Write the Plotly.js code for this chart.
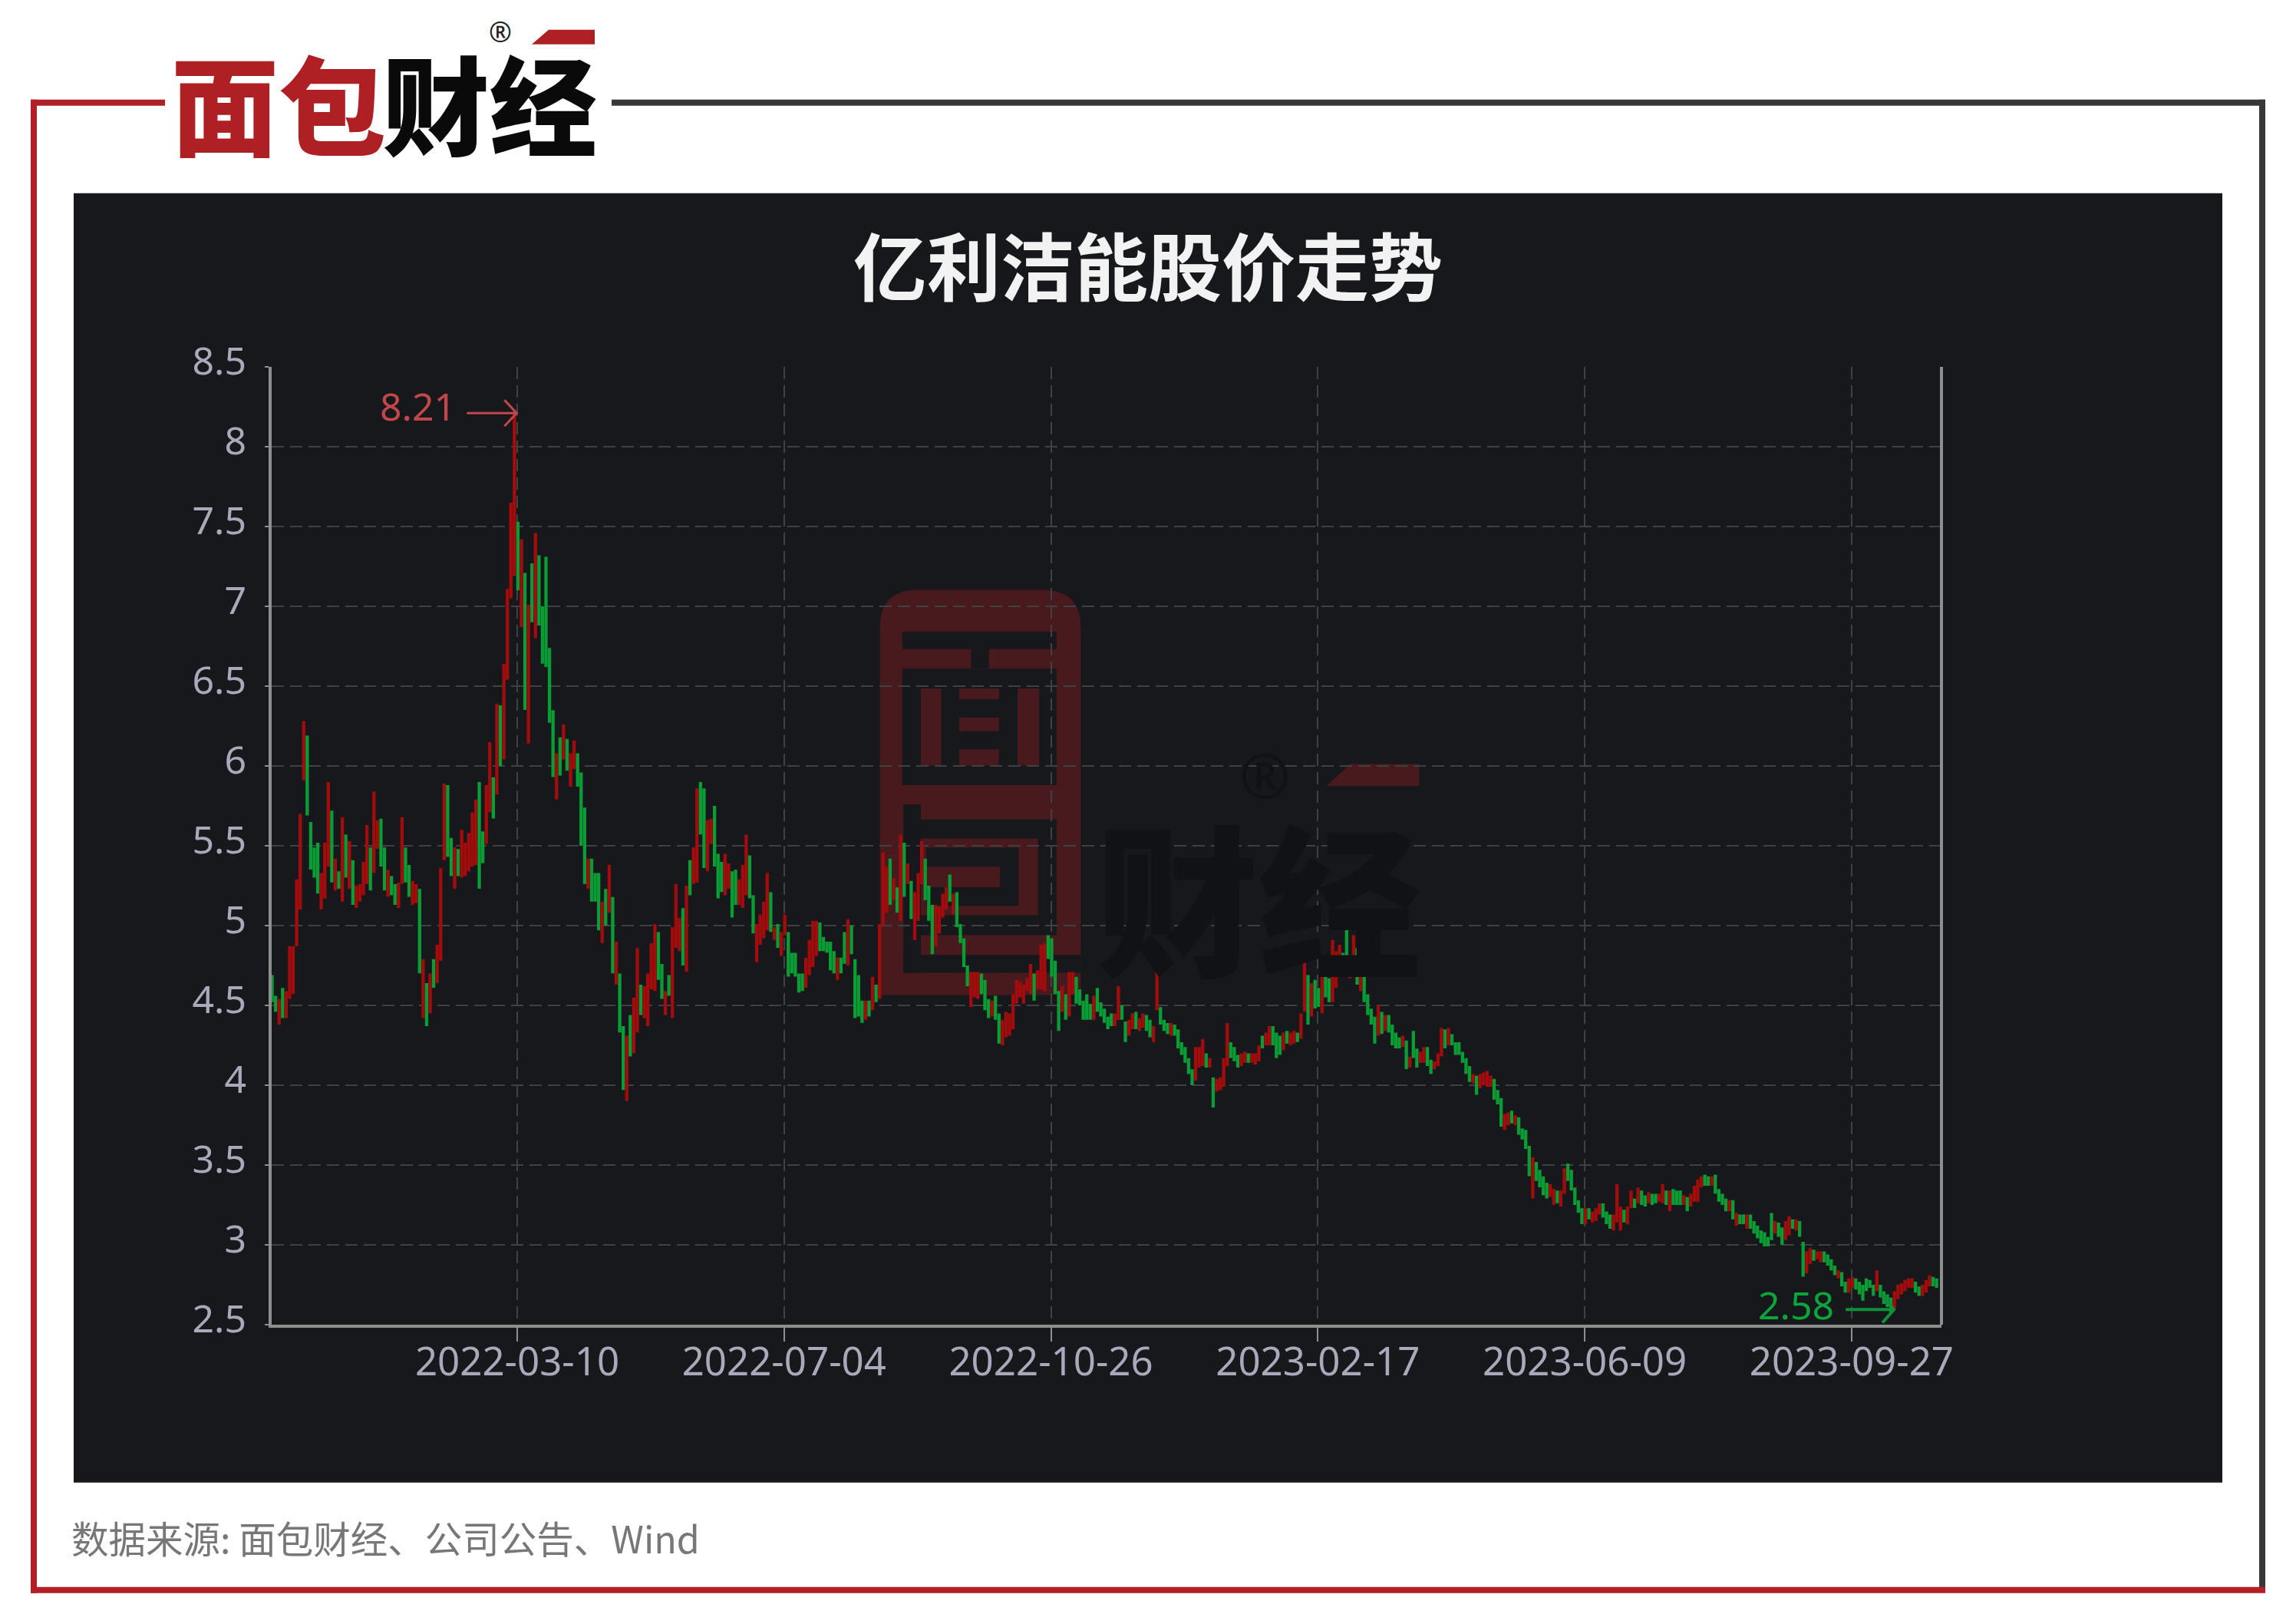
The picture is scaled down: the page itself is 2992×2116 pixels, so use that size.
<!DOCTYPE html>
<html><head><meta charset="utf-8">
<script src="https://cdn.plot.ly/plotly-3.0.1.min.js"></script>
<style>html,body{margin:0;padding:0;background:#fff}#c{width:2992px;height:2116px}</style>
</head><body><div id="c"></div>
<script>
const opens = [
4.55,4.68,4.55,4.39,4.60,4.43,4.55,4.58,4.88,5.11,
5.92,6.18,5.64,5.48,5.51,5.11,5.18,5.38,5.71,5.23,
5.33,5.16,5.56,5.24,5.40,5.12,5.16,5.20,5.27,5.48,
5.34,5.49,5.66,5.48,5.19,5.30,5.25,5.12,5.27,5.48,
5.37,5.14,5.15,5.22,4.43,4.63,4.46,4.78,4.65,4.79,
5.42,5.87,5.54,5.24,5.47,5.31,5.32,5.35,5.38,5.39,
5.89,5.58,5.52,5.72,5.92,5.83,6.37,6.05,6.55,7.06,
7.20,7.52,6.88,7.20,6.15,7.26,6.81,7.31,6.99,7.30,
6.73,6.34,5.80,6.17,6.05,6.16,5.88,5.99,6.07,5.95,
5.73,5.24,5.41,5.32,5.32,4.90,5.22,5.09,5.17,4.64,
4.69,4.36,3.91,4.43,4.21,4.34,4.62,4.43,4.38,4.61,
4.60,4.95,4.75,4.45,4.68,4.43,4.87,4.85,5.10,4.72,
5.40,5.27,5.28,5.89,5.85,5.35,5.52,5.74,5.44,5.39,
5.20,5.24,5.33,5.34,5.14,5.12,5.20,5.43,5.18,4.78,
4.89,4.93,4.98,5.20,4.92,5.00,4.82,4.95,4.95,4.82,
4.82,4.69,4.69,4.62,4.70,4.75,4.82,5.01,4.92,4.89,
4.89,4.83,4.67,4.79,4.95,4.76,4.99,4.78,4.68,4.52,
4.42,4.52,4.48,4.62,4.55,5.01,5.09,5.41,5.17,5.23,
5.04,5.51,5.27,5.27,4.92,5.04,5.27,5.41,5.24,5.12,
4.88,4.96,5.06,5.11,5.31,5.08,5.20,5.00,4.91,4.74,
4.50,4.56,4.55,4.69,4.65,4.53,4.44,4.55,4.44,4.26,
4.31,4.32,4.36,4.52,4.56,4.52,4.60,4.58,4.69,4.61,
4.61,4.60,4.93,4.91,4.77,4.58,4.47,4.56,4.44,4.58,
4.67,4.59,4.52,4.56,4.50,4.42,4.60,4.51,4.47,4.42,
4.44,4.38,4.42,4.49,4.39,4.32,4.36,4.45,4.35,4.37,
4.43,4.40,4.28,4.48,4.48,4.40,4.38,4.32,4.37,4.34,
4.26,4.23,4.16,4.09,4.04,4.12,4.13,4.19,4.12,4.04,
3.97,3.98,4.00,4.13,4.26,4.23,4.18,4.13,4.15,4.19,
4.15,4.14,4.16,4.30,4.26,4.26,4.36,4.32,4.30,4.23,
4.33,4.26,4.27,4.32,4.30,4.47,4.68,4.44,4.65,4.60,
4.46,4.69,4.66,4.53,4.62,4.72,4.82,4.99,4.68,4.81,
4.85,4.60,4.67,4.56,4.47,4.42,4.32,4.45,4.35,4.43,
4.37,4.32,4.29,4.25,4.27,4.12,4.33,4.22,4.15,4.15,
4.23,4.15,4.11,4.13,4.19,4.34,4.26,4.31,4.26,4.26,
4.20,4.16,4.11,4.02,4.05,3.99,4.01,4.00,4.00,4.03,
3.96,3.91,3.73,3.76,3.83,3.76,3.79,3.72,3.71,3.61,
3.30,3.51,3.46,3.42,3.38,3.31,3.26,3.33,3.25,3.33,
3.50,3.46,3.35,3.27,3.22,3.14,3.22,3.15,3.16,3.20,
3.25,3.20,3.18,3.10,3.15,3.10,3.21,3.14,3.24,3.28,
3.27,3.33,3.30,3.27,3.31,3.31,3.28,3.27,3.33,3.22,
3.34,3.33,3.33,3.26,3.29,3.25,3.28,3.28,3.37,3.43,
3.42,3.38,3.43,3.34,3.31,3.28,3.22,3.27,3.13,3.18,
3.18,3.11,3.18,3.14,3.11,3.08,3.07,3.04,3.19,3.08,
3.13,3.10,3.04,3.07,3.15,3.10,3.14,3.01,2.83,2.89,
2.96,2.92,2.90,2.95,2.93,2.90,2.86,2.80,2.82,2.76,
2.71,2.74,2.78,2.76,2.74,2.78,2.77,2.74,2.72,2.74,
2.70,2.68,2.66,2.61,2.67,2.70,2.72,2.74,2.74,2.76,
2.73,2.69,2.71,2.75,2.79,2.78];
const closes = [
4.76,4.53,4.47,4.53,4.43,4.58,4.86,4.86,5.28,5.69,
6.27,5.70,5.36,5.31,5.21,5.32,5.51,5.89,5.28,5.41,
5.24,5.67,5.31,5.52,5.14,5.24,5.25,5.39,5.62,5.23,
5.83,5.65,5.38,5.23,5.34,5.20,5.14,5.26,5.67,5.28,
5.19,5.27,5.25,4.71,4.78,4.38,4.69,4.62,4.87,5.35,
5.88,5.44,5.32,5.48,5.32,5.59,5.51,5.57,5.70,5.78,
5.24,5.40,5.87,6.14,5.68,6.38,6.01,6.63,7.10,7.64,
8.21,7.11,7.41,6.36,7.00,6.91,7.45,6.89,6.65,6.63,
6.28,5.94,6.07,5.95,6.25,5.98,6.07,6.15,5.88,5.51,
5.27,5.41,5.16,5.16,4.98,5.14,5.01,5.37,4.71,4.89,
4.34,3.98,4.30,4.19,4.54,4.85,4.45,4.61,4.69,4.88,
5.00,4.67,4.55,4.58,4.57,4.98,5.25,5.04,4.76,5.24,
5.20,5.48,5.85,5.58,5.37,5.65,5.66,5.38,5.18,5.22,
5.44,5.38,5.06,5.14,5.28,5.37,5.56,5.18,4.96,5.00,
5.06,5.14,5.32,4.97,4.98,4.87,4.95,5.06,4.69,4.71,
4.69,4.59,4.60,4.79,4.90,5.02,5.02,4.85,4.85,4.84,
4.73,4.71,4.79,4.71,4.77,5.03,4.83,4.43,4.44,4.40,
4.52,4.44,4.67,4.53,5.00,5.45,5.36,5.14,5.29,5.09,
5.56,5.19,5.38,5.05,5.20,5.32,5.52,5.17,5.04,4.83,
5.12,5.11,5.19,5.23,5.16,5.19,5.00,4.90,4.75,4.63,
4.70,4.70,4.70,4.58,4.48,4.43,4.52,4.42,4.27,4.40,
4.45,4.44,4.56,4.65,4.64,4.62,4.66,4.75,4.54,4.71,
4.87,4.88,4.80,4.69,4.58,4.35,4.61,4.42,4.70,4.70,
4.52,4.51,4.42,4.42,4.42,4.55,4.47,4.44,4.40,4.36,
4.38,4.44,4.61,4.42,4.28,4.40,4.44,4.36,4.41,4.44,
4.35,4.31,4.36,4.80,4.39,4.35,4.33,4.38,4.32,4.24,
4.20,4.15,4.08,4.01,4.23,4.23,4.28,4.12,4.16,3.87,
4.03,4.04,4.16,4.38,4.18,4.16,4.12,4.19,4.20,4.15,
4.19,4.19,4.24,4.24,4.32,4.36,4.26,4.18,4.20,4.32,
4.27,4.32,4.33,4.28,4.44,4.78,4.39,4.63,4.49,4.50,
4.75,4.56,4.53,4.90,4.83,4.87,4.72,4.77,4.80,4.93,
4.64,4.68,4.53,4.45,4.39,4.27,4.49,4.33,4.43,4.34,
4.26,4.24,4.24,4.30,4.11,4.17,4.18,4.12,4.20,4.23,
4.13,4.08,4.14,4.19,4.35,4.24,4.35,4.26,4.20,4.20,
4.15,4.08,4.03,4.06,3.95,4.06,4.07,4.08,4.05,3.92,
3.89,3.75,3.81,3.82,3.77,3.80,3.70,3.67,3.61,3.44,
3.54,3.41,3.37,3.32,3.30,3.37,3.34,3.27,3.33,3.47,
3.41,3.35,3.26,3.21,3.14,3.22,3.17,3.20,3.22,3.25,
3.18,3.14,3.11,3.18,3.37,3.23,3.15,3.23,3.33,3.24,
3.35,3.26,3.25,3.32,3.26,3.27,3.31,3.37,3.26,3.33,
3.26,3.26,3.26,3.30,3.22,3.31,3.36,3.40,3.42,3.38,
3.38,3.42,3.33,3.28,3.26,3.22,3.27,3.17,3.19,3.14,
3.14,3.18,3.11,3.08,3.05,3.02,3.00,3.00,3.04,3.14,
3.06,3.01,3.14,3.17,3.11,3.15,3.06,2.81,2.95,2.97,
2.91,2.95,2.95,2.90,2.88,2.85,2.82,2.83,2.75,2.71,
2.78,2.79,2.73,2.70,2.66,2.72,2.74,2.69,2.83,2.68,
2.64,2.62,2.58,2.70,2.74,2.75,2.77,2.78,2.78,2.71,
2.69,2.74,2.77,2.80,2.75,2.74];
const tickIndex = [70,146,222,298,374,450];
const tickLabels = ['2022-03-10','2022-07-04','2022-10-26','2023-02-17','2023-06-09','2023-09-27'];
const yTickVals = [2.5,3,3.5,4,4.5,5,5.5,6,6.5,7,7.5,8,8.5];
const yTickLabels = ['2.5','3','3.5','4','4.5','5','5.5','6','6.5','7','7.5','8','8.5'];
const chartTitle = '亿利洁能股价走势';
const sourceNote = '数据来源: 面包财经、公司公告、Wind';

// ---- page geometry ----
const W = 2992, H = 2116;
const L = 354, R = 2530, T = 478.3, B = 1726.3;
const px = x => (x - L) / (R - L);
const py = y => (B - y) / (B - T);
const bandPx = 4.576, firstPx = 350;
const xAt = p => (p - firstPx) / bandPx;

const idx = opens.map((_, i) => i);
const highs = opens.map((o, i) => Math.max(o, closes[i]));
const lows = opens.map((o, i) => Math.min(o, closes[i]));
const maxI = highs.indexOf(Math.max(...highs));
const minI = lows.indexOf(Math.min(...lows));

const PANEL = '#16181c', WMR = '#491a1d', WMK = '#101216';
const RED = '#b21f24', GRAY = '#383838', AX = '#8f8f8f', GRID = '#404144';

function rect(x0, x1, y0, y1, color) {
  return {type:'rect', xref:'paper', yref:'paper', layer:'below', x0:px(x0), x1:px(x1), y0:py(y0), y1:py(y1),
    fillcolor:color, line:{width:0}};
}
function poly(pts, color) {
  const d = pts.map((p, i) => (i ? 'L' : 'M') + px(p[0]) + ',' + py(p[1])).join('') + 'Z';
  return {type:'path', xref:'paper', yref:'paper', layer:'below', path:d, fillcolor:color, line:{width:0}};
}
// watermark coordinates are measured in a crop, converted here
const wx = z => 1120 + z / 2.063, wy = z => 750 + z / 2.24;
const wr = (a, b, c, d, col) => rect(wx(a), wx(b), wy(c), wy(d), col);

function roundedMark() {
  const x0 = wx(55), x1 = wx(595), y0 = wy(42), y1 = wy(1225), r = 50;
  const k = [x0 + r, y0, x1 - r, y0, x1, y0 + r, x1, y1, x0, y1, x0, y0 + r];
  const p = (x, y) => px(x) + ',' + py(y);
  const d = 'M' + p(k[0], k[1]) + 'L' + p(k[2], k[3]) + 'Q' + p(x1, y0) + ' ' + p(k[4], k[5]) +
    'L' + p(k[6], k[7]) + 'L' + p(k[8], k[9]) + 'L' + p(k[10], k[11]) + 'Q' + p(x0, y0) + ' ' + p(k[0], k[1]) + 'Z';
  return {type:'path', xref:'paper', yref:'paper', layer:'below', path:d, fillcolor:WMR, line:{width:0}};
}

const shapes = [
  // white frame
  rect(40, 215, 130, 138, RED),
  rect(40, 48, 130, 2076, RED),
  rect(797, 2952, 130, 138, GRAY),
  rect(2944, 2952, 130, 2072, GRAY),
  rect(40, 2952, 2068, 2076, RED),
  // dark panel
  rect(96, 2896, 252, 1932, PANEL),
  // logo accent
  poly([[715,39],[775,39],[775,58],[693,58]], '#ae2024'),
  // watermark
  roundedMark(),
  wr(115,530,165,215,PANEL),
  wr(300,348,215,272,PANEL),
  wr(115,530,272,612,PANEL),
  wr(165,220,330,555,WMR), wr(425,483,330,555,WMR),
  wr(268,375,330,362,WMR), wr(268,375,415,455,WMR), wr(268,375,508,555,WMR),
  wr(118,165,668,1160,PANEL),
  wr(165,530,712,768,PANEL),
  wr(480,530,768,1050,PANEL),
  wr(180,428,795,965,PANEL),
  wr(180,378,850,910,WMR),
  wr(165,480,992,1050,PANEL),
  wr(118,595,1108,1160,PANEL),
  poly([[wx(1320),wy(550)],[wx(1505),wy(550)],[wx(1505),wy(615)],[wx(1255),wy(615)]], WMR),
  // right-hand axis line
  {type:'line', xref:'paper', yref:'paper', x0:1, x1:1, y0:0, y1:1, line:{color:AX, width:4}},
  // peak and trough arrows, anchored on the data
  {type:'path', xref:'x', yref:'y', xsizemode:'pixel', ysizemode:'pixel', xanchor:maxI, yanchor:highs[maxI],
   path:'M-62,0L3,0M-13,-17L3,0L-13,17', line:{color:'#c2474a', width:3}},
  {type:'path', xref:'x', yref:'y', xsizemode:'pixel', ysizemode:'pixel', xanchor:minI, yanchor:lows[minI],
   path:'M-59,3L4,3M-11,-14L4,3L-11,20', line:{color:'#0e8f38', width:4}}
];

const num = {family:'"Noto Sans", sans-serif', size:51, color:'#a9a9bb'};
const yNum = {family:'"Noto Sans", sans-serif', size:50, color:'#a9a9bb'};
const cjk = '"Noto Sans CJK SC", sans-serif';

const annotations = [
  {x:maxI, y:highs[maxI], xref:'x', yref:'y', text:String(highs[maxI]), showarrow:false, xshift:-126, yshift:9,
   font:{family:num.family, size:50, color:'#c2474a'}},
  {x:minI, y:lows[minI], xref:'x', yref:'y', text:String(lows[minI]), showarrow:false, xshift:-124, yshift:9,
   font:{family:num.family, size:50, color:'#0ca53c'}},
  // source line
  {xref:'paper', yref:'paper', x:px(91), y:py(2003), xanchor:'left', yanchor:'middle', showarrow:false, text:sourceNote,
   font:{family:cjk, size:48.5, color:'#777777'}},
  // header logo wordmark
  {xref:'paper', yref:'paper', x:px(505), y:py(131), xanchor:'right', yanchor:'middle', showarrow:false, text:'面包',
   font:{family:cjk, size:140, color:'#ae2024', weight:900}},
  {xref:'paper', yref:'paper', x:px(496), y:py(131), xanchor:'left', yanchor:'middle', showarrow:false, text:'财经',
   font:{family:cjk, size:140, color:'#0a0a0a', weight:900}},
  {xref:'paper', yref:'paper', x:px(652), y:py(42), xanchor:'center', yanchor:'middle', showarrow:false, text:'®',
   font:{family:num.family, size:36, color:'#222222'}},
  // panel watermark wordmark
  {xref:'paper', yref:'paper', x:px(1640), y:py(1165), xanchor:'center', yanchor:'middle', showarrow:false, text:'财经',
   font:{family:cjk, size:212, color:WMK, weight:900}},
  {xref:'paper', yref:'paper', x:px(1648), y:py(1009), xanchor:'center', yanchor:'middle', showarrow:false, text:'®',
   font:{family:num.family, size:80, color:WMK}}
];

const trace = {
  type:'candlestick', x:idx, open:opens, high:highs, low:lows, close:closes,
  increasing:{line:{color:'#a30c0c', width:4}, fillcolor:'#a30c0c'},
  decreasing:{line:{color:'#0a9c35', width:4}, fillcolor:'#0a9c35'},
  whiskerwidth:0, hoverinfo:'skip', showlegend:false
};

const layout = {
  width:W, height:H, autosize:false,
  margin:{l:L, r:W-R, t:T, b:H-B, pad:0},
  paper_bgcolor:'#ffffff', plot_bgcolor:'rgba(0,0,0,0)',
  showlegend:false, boxgap:0.9,
  title:{text:chartTitle, x:1496/W, xanchor:'center', y:1-350/H, yanchor:'middle',
         font:{family:cjk, size:96, color:'#f2f2f2', weight:700}},
  xaxis:{type:'linear', range:[xAt(L), xAt(R)], rangeslider:{visible:false},
    tickmode:'array', tickvals:tickIndex.map(i => i + xAt(674) - tickIndex[0]), ticktext:tickLabels,
    ticks:'outside', ticklen:18, tickwidth:2, tickcolor:AX,
    showline:true, linecolor:AX, linewidth:4, zeroline:false,
    showgrid:true, gridcolor:GRID, gridwidth:2, griddash:'16px,8px',
    tickfont:num, ticklabelstandoff:-17},
  yaxis:{type:'linear', range:[2.5, 8.5],
    tickmode:'array', tickvals:yTickVals, ticktext:yTickLabels,
    ticks:'outside', ticklen:5, tickwidth:2, tickcolor:AX,
    showline:true, linecolor:AX, linewidth:4, zeroline:false,
    showgrid:true, gridcolor:GRID, gridwidth:2, griddash:'16px,8px',
    tickfont:yNum, ticklabelstandoff:14, ticklabelshift:-8},
  shapes, annotations
};
Plotly.newPlot('c', [trace], layout, {displayModeBar:false, staticPlot:true});
</script></body></html>
